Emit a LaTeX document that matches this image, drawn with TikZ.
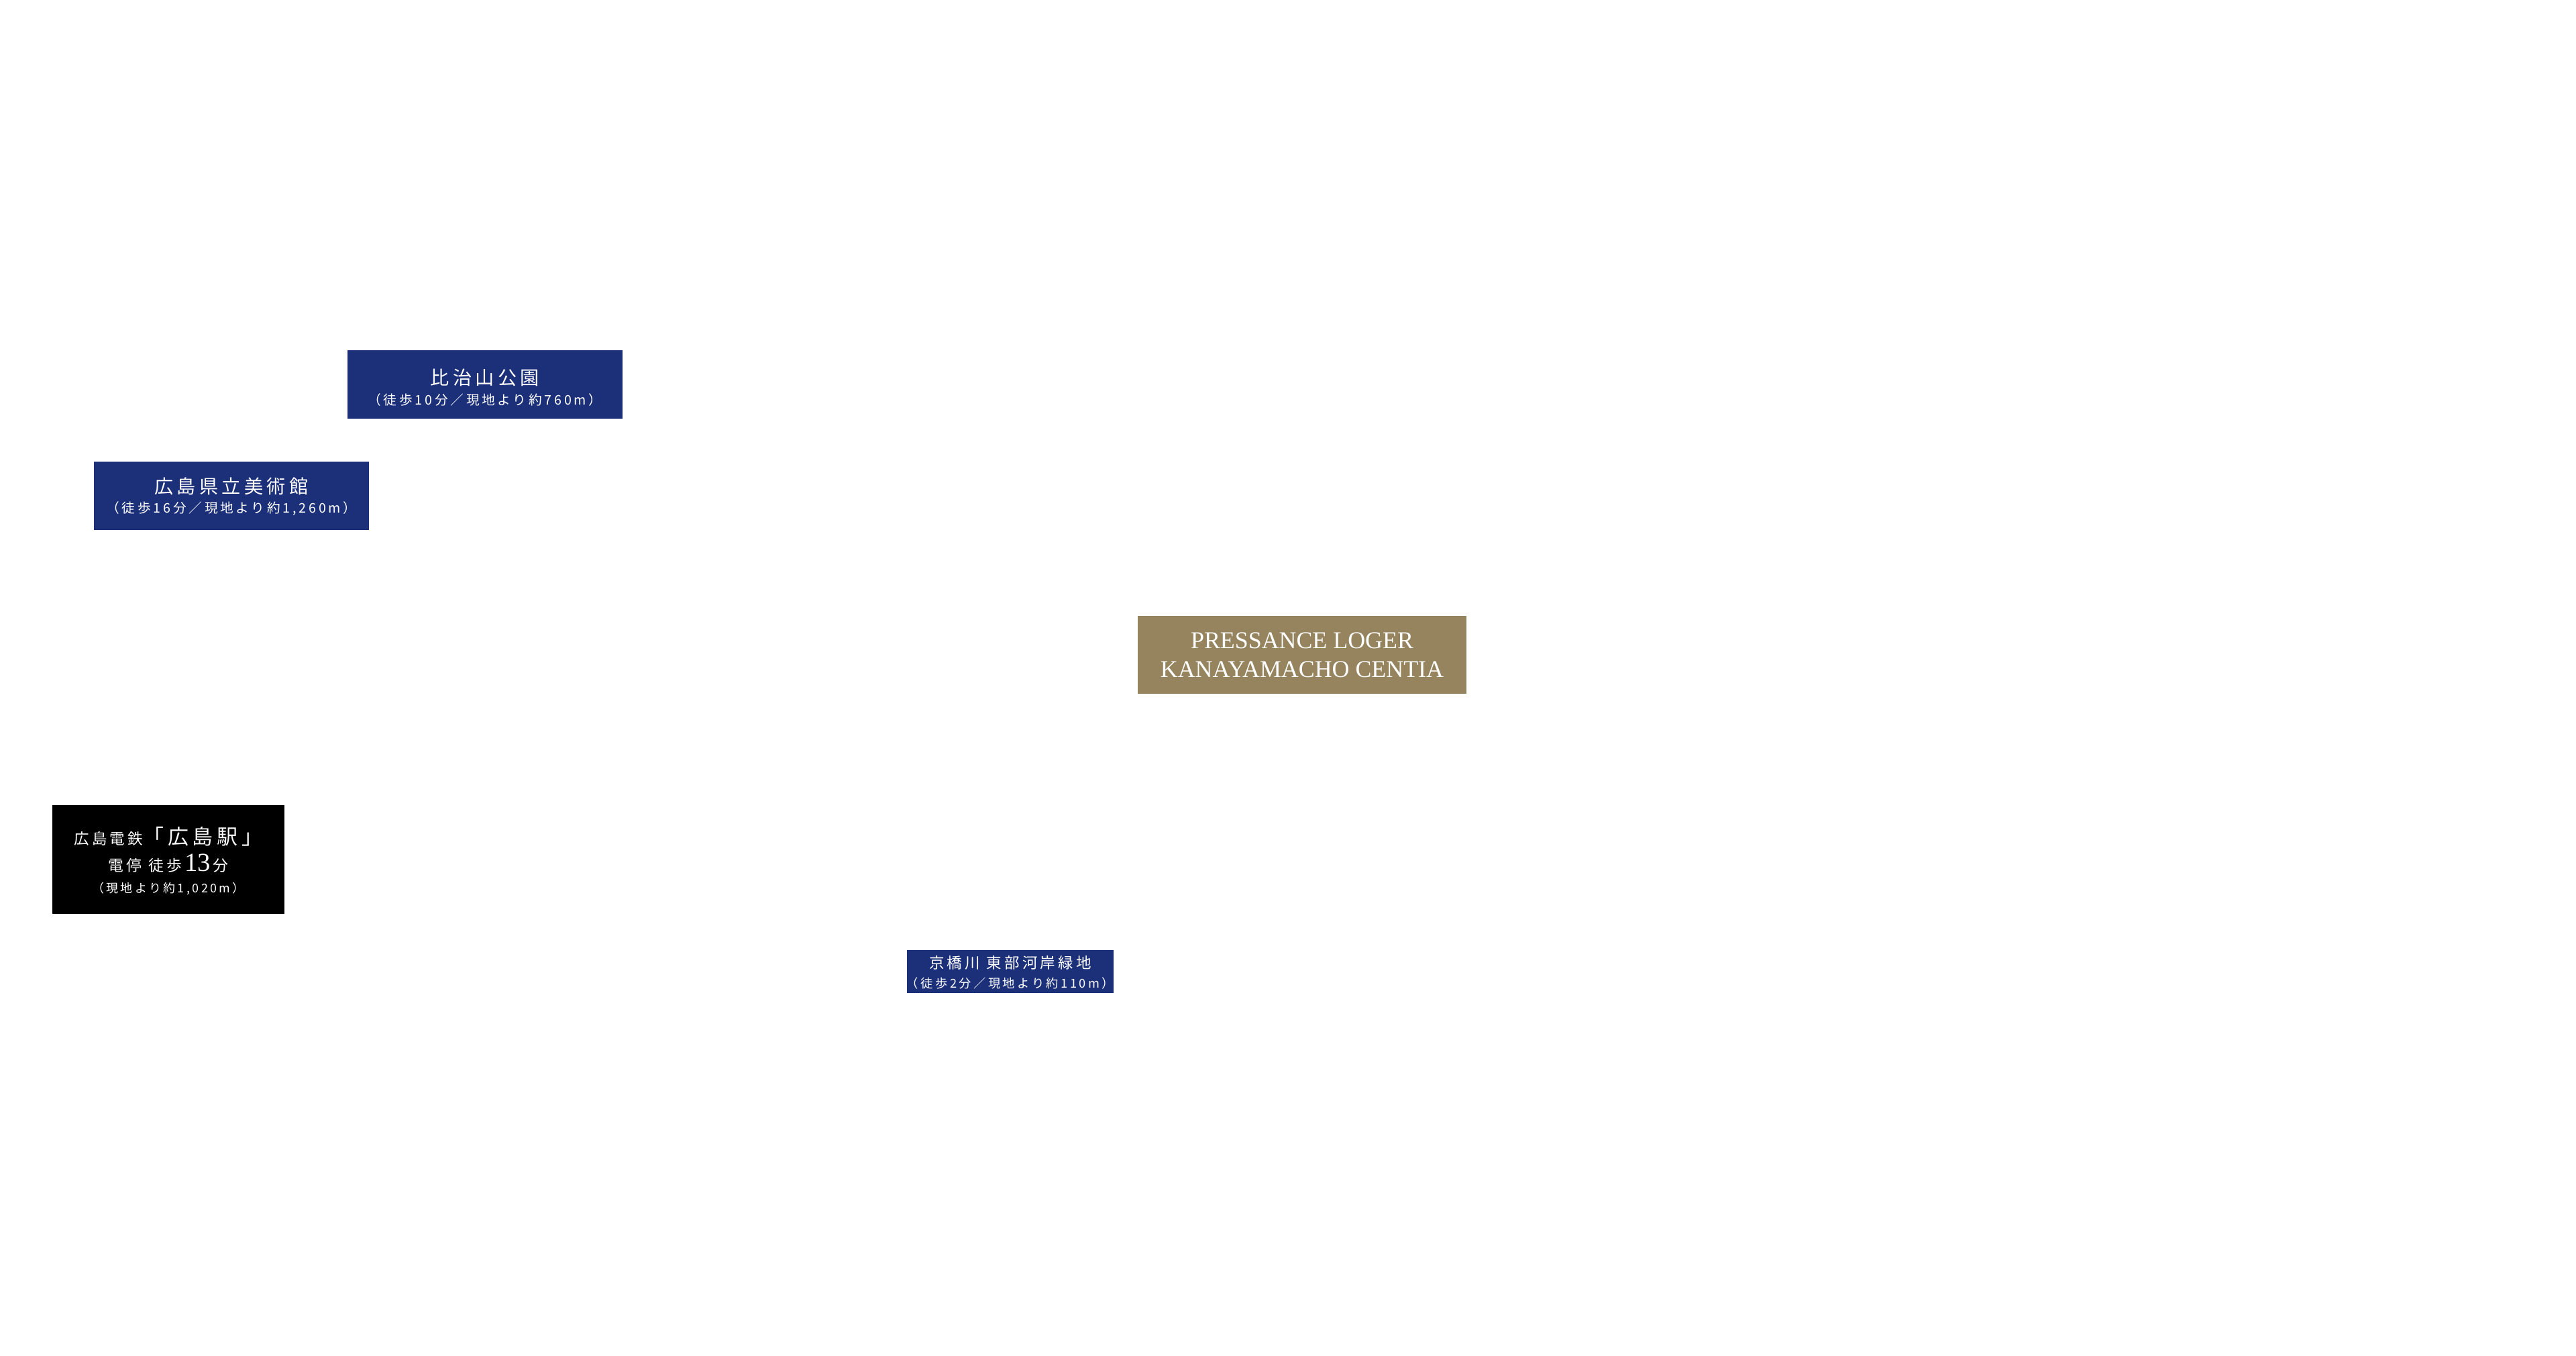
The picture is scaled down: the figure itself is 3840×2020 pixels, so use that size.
\documentclass[tikz,border=0pt]{standalone}
\usepackage{fontspec}
\setmainfont{Liberation Serif}
\newfontfamily\jp[LetterSpace=19]{Noto Sans CJK JP}
\usetikzlibrary{positioning}

\definecolor{navy}{RGB}{28,48,122}
\definecolor{gold}{RGB}{150,132,95}

\tikzset{
  spotbox/.style={fill=navy, draw=none, inner sep=0pt},
  homebox/.style={fill=gold, draw=none, inner sep=0pt},
  tramboxstyle/.style={fill=black, draw=none, inner sep=0pt},
  spotname/.style={text=white, inner sep=0pt, font=\jp\fontsize{8}{9}\selectfont},
  spotdist/.style={text=white, inner sep=0pt, font=\jp\fontsize{5.6}{6}\selectfont},
  latinline/.style={text=white, inner sep=0pt, anchor=base, font=\fontsize{10.2}{12}\selectfont},
}

\begin{document}
\begin{tikzpicture}[x=0.01cm, y=-0.01cm]
  \useasboundingbox (0,0) rectangle (3840,2020);

  % Hijiyama park
  \node[spotbox, minimum width=4.10cm, minimum height=1.02cm] (hiji) at (723,573) {};
  \node[spotname] (hiji-name) at (723,563) {比治山公園};
  \node[spotdist] (hiji-dist) at (723,596) {（徒歩10分／現地より約760m）};

  % art museum
  \node[spotbox, minimum width=4.10cm, minimum height=1.02cm] (museum) at (345,739) {};
  \node[spotname] (museum-name) at (345,725) {広島県立美術館};
  \node[spotdist] (museum-dist) at (345,758) {（徒歩16分／現地より約1,260m）};

  % the site
  \node[homebox, minimum width=4.90cm, minimum height=1.16cm] (site) at (1941,976) {};
  \node[latinline] (site-top) at (1941,966) {PRESSANCE LOGER};
  \node[latinline] (site-bot) at (1941,1009) {KANAYAMACHO CENTIA};

  % tram stop
  \node[tramboxstyle, minimum width=3.46cm, minimum height=1.62cm] (tram) at (251,1281) {};
  \node[spotname, font=\jp\fontsize{6.4}{7}\selectfont] (tram-a) at (251,1247)
    {広島電鉄{\fontsize{8.8}{9}\selectfont「広島駅」}};
  \node[spotname, font=\jp\fontsize{6.5}{7}\selectfont] (tram-b) at (251,1287)
    {電停 徒歩\,{\rmfamily\fontsize{11}{12}\selectfont 13}\,分};
  \node[spotdist, font=\jp\fontsize{5.1}{6}\selectfont] (tram-c) at (251,1324) {（現地より約1,020m）};

  % riverside green
  \node[spotbox, minimum width=3.08cm, minimum height=0.64cm] (river) at (1506,1448) {};
  \node[spotname, font=\jp\fontsize{6.4}{7}\selectfont] (river-name) at (1506,1435) {京橋川 東部河岸緑地};
  \node[spotdist, font=\jp\fontsize{5.2}{6}\selectfont] (river-dist) at (1506,1466) {（徒歩2分／現地より約110m）};
\end{tikzpicture}
\end{document}
